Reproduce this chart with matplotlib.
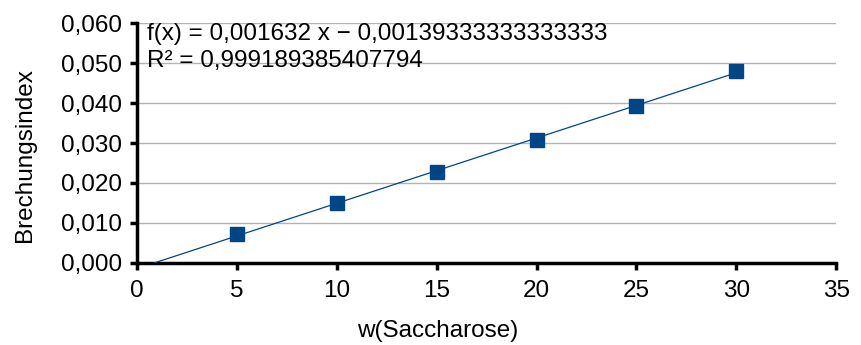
import numpy as np
import matplotlib
matplotlib.use("Agg")
import matplotlib.pyplot as plt
from matplotlib.ticker import FuncFormatter

plt.rcParams['font.family'] = ['Liberation Sans', 'DejaVu Sans']

# Messwerte
w_saccharose = [5, 10, 15, 20, 25, 30]
brechungsindex = [0.0072, 0.0149, 0.0227, 0.0308, 0.0393, 0.0481]
eq_text = "f(x) = 0,001632 x − 0,00139333333333333\nR² = 0,999189385407794"

blue = "#004586"
fs = 17.5

fig = plt.figure(figsize=(8.62, 3.45), dpi=100)
ax = fig.add_axes([0.159, 0.238, 0.811, 0.695])

# lineare Trendlinie
m, b = np.polyfit(w_saccharose, brechungsindex, 1)
x0 = -b / m
xt = np.array([x0, max(w_saccharose)])
ax.plot(xt, m * xt + b, color=blue, lw=0.9, zorder=3)
ax.plot(w_saccharose, brechungsindex, ls="none", marker="s", ms=10.5,
        color=blue, zorder=4)

ax.set_xlim(0, 35)
ax.set_ylim(0, 0.06)
ax.set_xticks(range(0, 36, 5))
ax.set_yticks(np.arange(0, 0.0601, 0.01))
ax.yaxis.set_major_formatter(FuncFormatter(lambda v, p: f"{v:.3f}".replace(".", ",")))

ax.grid(axis="y", color="#b3b3b3", lw=1)
ax.set_axisbelow(True)
for s in ["top", "right"]:
    ax.spines[s].set_visible(False)
for s in ["left", "bottom"]:
    ax.spines[s].set_linewidth(2.5)
ax.tick_params(direction="out", length=5, width=2.5, labelsize=fs)
ax.tick_params(axis="x", pad=7)
ax.tick_params(axis="y", pad=6)

ax.set_xlabel("w(Saccharose)", fontsize=fs, va="center")
ax.xaxis.set_label_coords(0.43, -0.285)
ax.set_ylabel("Brechungsindex", fontsize=fs, va="center")
ax.yaxis.set_label_coords(-0.16, 0.45)

ax.text(0.014, 1.0, eq_text, transform=ax.transAxes, fontsize=fs,
        va="top", ha="left", linespacing=1.3)

fig.savefig("out.png", dpi=100)
